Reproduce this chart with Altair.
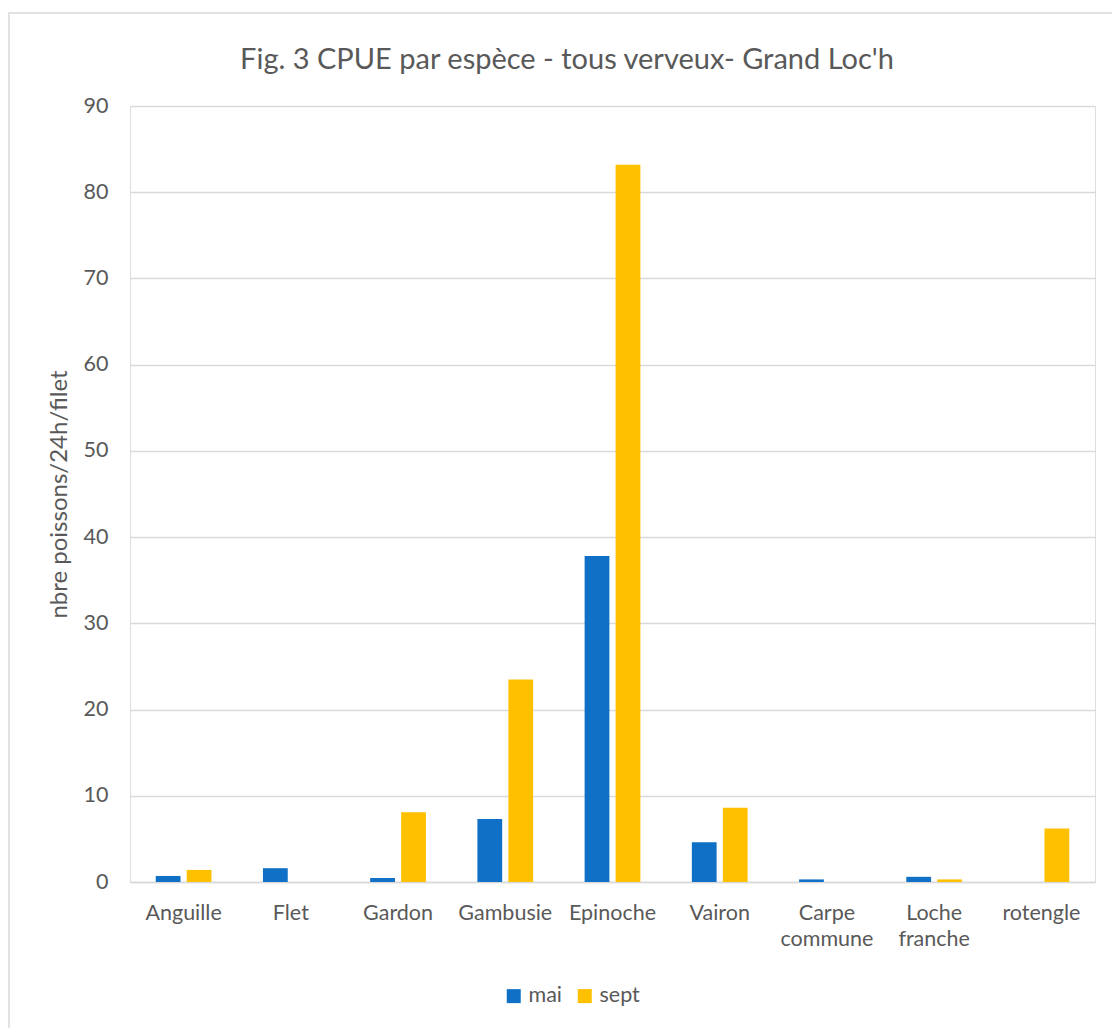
import altair as alt
import pandas as pd

species = ["Anguille", "Flet", "Gardon", "Gambusie", "Epinoche", "Vairon",
           "Carpe commune", "Loche franche", "rotengle"]
mai = [0.7, 1.6, 0.45, 7.3, 37.8, 4.6, 0.3, 0.6, 0.0]
sept = [1.4, 0.0, 8.1, 23.5, 83.2, 8.6, 0.0, 0.3, 6.2]
periods = ["mai", "sept"]
colors = ["#0F70C6", "#FFC000"]
y_ticks = [0, 10, 20, 30, 40, 50, 60, 70, 80, 90]
title_text = "Fig. 3 CPUE par espèce - tous verveux- Grand Loc'h"

rows = []
for s, m, se in zip(species, mai, sept):
    rows.append({"espece": s, "periode": "mai", "valeur": m})
    rows.append({"espece": s, "periode": "sept", "valeur": se})
df = pd.DataFrame(rows)

FONT = "Lato"
GREY = "#595959"
FS = 21.5

bars = alt.Chart(df).mark_bar().encode(
    x=alt.X("espece:N", sort=species, title=None,
            scale=alt.Scale(paddingInner=0.48, paddingOuter=0.24),
            axis=alt.Axis(labelAngle=0, labelExpr="split(datum.label, ' ')",
                          labelLineHeight=26, labelPadding=20, ticks=False,
                          domainColor="#D9D9D9", domainWidth=1.5,
                          labelFont=FONT, labelFontSize=FS, labelColor=GREY)),
    xOffset=alt.XOffset("periode:N", sort=periods,
                        scale=alt.Scale(paddingInner=0.2, paddingOuter=0)),
    y=alt.Y("valeur:Q", title="nbre poissons/24h/filet",
            scale=alt.Scale(domain=[0, 90], nice=False),
            axis=alt.Axis(values=y_ticks, domain=False, ticks=False,
                          gridColor="#D9D9D9", gridWidth=1.5,
                          labelPadding=22, labelFont=FONT, labelFontSize=FS,
                          labelColor=GREY, titleFont=FONT, titleFontSize=24,
                          titleColor=GREY, titleFontWeight="normal",
                          titlePadding=12)),
    color=alt.Color("periode:N", sort=periods, title=None,
                    scale=alt.Scale(domain=periods, range=colors),
                    legend=alt.Legend(orient="none", legendX=373, legendY=879,
                                      direction="horizontal", symbolType="square",
                                      symbolSize=196, symbolStrokeWidth=0,
                                      labelFont=FONT, labelFontSize=FS,
                                      labelColor=GREY, columnPadding=11,
                                      labelOffset=4)),
)

frame = alt.Chart(pd.DataFrame({"a": [0]})).mark_rect(
    fill=None, stroke="#D9D9D9", strokeWidth=1.5
).encode(x=alt.value(-121), x2=alt.value(995), y=alt.value(-93), y2=alt.value(935))

title = alt.Chart(pd.DataFrame({"t": [title_text]})).mark_text(
    font=FONT, fontSize=29, color=GREY, align="center", baseline="alphabetic"
).encode(text="t:N", x=alt.value(437), y=alt.value(-37))

chart = alt.layer(frame, bars, title).properties(
    width=965, height=776,
    autosize=alt.AutoSizeParams(type="none"),
    padding={"left": 130, "top": 106, "right": 17, "bottom": 146},
).configure_view(stroke=None).configure(background="white")

chart.save("out.html", embed_options={"renderer": "svg", "actions": False})
